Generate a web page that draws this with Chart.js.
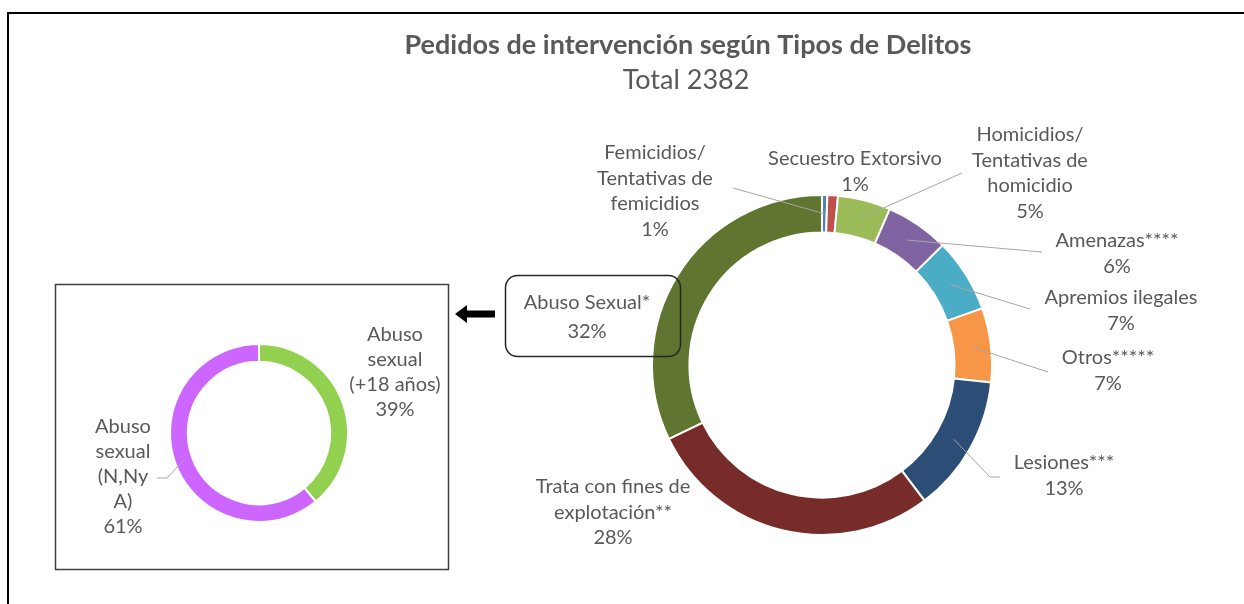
<!DOCTYPE html>
<html>
<head>
<meta charset="utf-8">
<script src="https://cdn.jsdelivr.net/npm/chart.js@4/dist/chart.umd.min.js"></script>
<style>
	body { margin: 0; background: #fff; }
	#wrap { position: relative; width: 1244px; height: 604px; }
	#mainChart { position: absolute; left: 0; top: 0; }
	#subChart { position: absolute; left: 55px; top: 284px; }
</style>
</head>
<body>
<div id="wrap">
	<canvas id="mainChart" width="1244" height="604"></canvas>
	<canvas id="subChart" width="393" height="285"></canvas>
</div>
<script>
// Main doughnut: share of each crime type (%)
var categories = [
	['Femicidios/', 'Tentativas de', 'femicidios'],
	['Secuestro Extorsivo'],
	['Homicidios/', 'Tentativas de', 'homicidio'],
	['Amenazas****'],
	['Apremios ilegales'],
	['Otros*****'],
	['Lesiones***'],
	['Trata con fines de', 'explotación**'],
	['Abuso Sexual*']
];
var shares = [0.5, 1, 5, 6, 7, 7, 13, 28, 32];
var total = 2382;

// Detail doughnut for "Abuso Sexual"
var subCategories = [
	['Abuso', 'sexual', '(+18 años)'],
	['Abuso', 'sexual', '(N,Ny', 'A)']
];
var subShares = [39, 61];

var mainColors = ['#4F81BD', '#C0504D', '#9BBB59', '#8064A2', '#4BACC6', '#F79646', '#2C4D75', '#772C2A', '#5F7530'];
var subColors = ['#92D050', '#CC66FF'];

var TEXT = '#595959';
var FONT = '20px Lato';

function pct(arr, i) {
	var sum = arr.reduce(function (a, b) { return a + b; }, 0);
	return Math.round(arr[i] / sum * 100) + '%';
}

function drawLines(ctx, lines, cx, y0, lh) {
	ctx.textAlign = 'center';
	ctx.textBaseline = 'middle';
	lines.forEach(function (t, k) { ctx.fillText(t, cx, y0 + k * lh); });
}

function drawLeader(ctx, arc, pts) {
	var p = arc.tooltipPosition();
	ctx.beginPath();
	ctx.moveTo(p.x, p.y);
	pts.forEach(function (q) { ctx.lineTo(q[0], q[1]); });
	ctx.stroke();
}

// label layout for the main doughnut (index = slice)
var mainLabelPos = [
	{ x: 655, y: 153, lead: [[733, 188]] },
	{ x: 855, y: 159 },
	{ x: 1030, y: 135, lead: [[962, 173]] },
	{ x: 1117, y: 241, lead: [[1042, 252]] },
	{ x: 1121, y: 298, lead: [[1030, 309]] },
	{ x: 1108, y: 358, lead: [[1048, 372]] },
	{ x: 1064, y: 463, lead: [[990, 477], [1000, 477]] },
	{ x: 613, y: 487 },
	{ x: 587, y: 303, lh: 29, callout: true }
];

var mainDecor = {
	id: 'mainDecor',
	afterDatasetsDraw: function (chart) {
		var ctx = chart.ctx;
		var arcs = chart.getDatasetMeta(0).data;
		ctx.save();
		// frame
		ctx.fillStyle = '#000';
		ctx.fillRect(7, 12, 1237, 2);
		ctx.fillRect(7, 12, 2, 592);
		// inset box
		ctx.strokeStyle = '#404040';
		ctx.lineWidth = 1.5;
		ctx.strokeRect(55.5, 284.5, 393, 285);
		// arrow
		ctx.beginPath();
		ctx.moveTo(455, 314);
		ctx.lineTo(467, 305);
		ctx.lineTo(467, 310.5);
		ctx.lineTo(495, 310.5);
		ctx.lineTo(495, 317.5);
		ctx.lineTo(467, 317.5);
		ctx.lineTo(467, 323);
		ctx.closePath();
		ctx.fill();
		// title
		ctx.fillStyle = TEXT;
		ctx.textAlign = 'center';
		ctx.textBaseline = 'middle';
		ctx.font = 'bold 27px Lato';
		ctx.fillText('Pedidos de intervención según Tipos de Delitos', 688, 45);
		ctx.font = '27px Lato';
		ctx.fillText('Total ' + total, 686, 80);
		// leader lines
		ctx.strokeStyle = '#A6A6A6';
		ctx.lineWidth = 1;
		mainLabelPos.forEach(function (L, i) {
			if (L.lead) drawLeader(ctx, arcs[i], L.lead);
		});
		// callout box for Abuso Sexual
		ctx.strokeStyle = '#262626';
		ctx.lineWidth = 1.5;
		ctx.beginPath();
		ctx.roundRect(505.5, 275.5, 175, 81, 12);
		ctx.stroke();
		// labels
		ctx.font = FONT;
		ctx.fillStyle = TEXT;
		mainLabelPos.forEach(function (L, i) {
			drawLines(ctx, categories[i].concat([pct(shares, i)]), L.x, L.y, L.lh || 25.5);
		});
		ctx.restore();
	}
};

var subLabelPos = [
	{ x: 340, y: 51 },
	{ x: 68, y: 143, lead: [[112, 194], [102, 194]] }
];

var subDecor = {
	id: 'subDecor',
	afterDatasetsDraw: function (chart) {
		var ctx = chart.ctx;
		var arcs = chart.getDatasetMeta(0).data;
		ctx.save();
		ctx.strokeStyle = '#A6A6A6';
		ctx.lineWidth = 1;
		subLabelPos.forEach(function (L, i) {
			if (L.lead) drawLeader(ctx, arcs[i], L.lead);
		});
		ctx.font = FONT;
		ctx.fillStyle = TEXT;
		subLabelPos.forEach(function (L, i) {
			drawLines(ctx, subCategories[i].concat([pct(subShares, i)]), L.x, L.y, 25);
		});
		ctx.restore();
	}
};

new Chart(document.getElementById('mainChart'), {
	type: 'doughnut',
	data: {
		labels: categories.map(function (c) { return c.join(' '); }),
		datasets: [{
			data: shares,
			backgroundColor: mainColors,
			borderColor: '#fff',
			borderWidth: 2
		}]
	},
	options: {
		responsive: false,
		animation: false,
		cutout: '78%',
		layout: { padding: { left: 651, right: 251, top: 194, bottom: 68 } },
		plugins: { legend: { display: false }, tooltip: { enabled: false } }
	},
	plugins: [mainDecor]
});

new Chart(document.getElementById('subChart'), {
	type: 'doughnut',
	data: {
		labels: subCategories.map(function (c) { return c.join(' '); }),
		datasets: [{
			data: subShares,
			backgroundColor: subColors,
			borderColor: '#fff',
			borderWidth: 2
		}]
	},
	options: {
		responsive: false,
		animation: false,
		cutout: '80%',
		layout: { padding: { left: 114, right: 99, top: 59, bottom: 46 } },
		plugins: { legend: { display: false }, tooltip: { enabled: false } }
	},
	plugins: [subDecor]
});
</script>
</body>
</html>
